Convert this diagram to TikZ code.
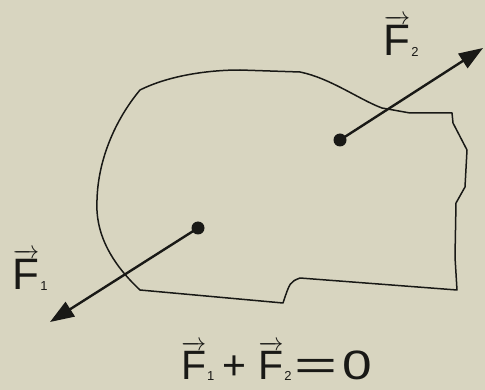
\documentclass[tikz,border=0pt]{standalone}
\usepackage{amsmath}
\usepackage{graphicx}
\usepackage{fontspec}
\setmainfont{Liberation Sans}
\usepackage{tikz}
\usetikzlibrary{arrows.meta,positioning,calc}
\definecolor{paperbg}{RGB}{216,213,192}
\definecolor{inkdark}{RGB}{25,25,22}
\newcommand{\forcevec}[1]{\ensuremath{\overrightarrow{\text{F}}}\kern1pt\raisebox{-1pt}{\fontsize{13}{13}\selectfont #1}}
\tikzset{
  outline/.style={draw=inkdark,line width=1.5pt,line join=round},
  point/.style={circle,fill=inkdark,minimum size=13pt,inner sep=0pt},
  force/.style={-{Triangle[length=24pt,width=17pt]},line width=2.4pt,draw=inkdark},
  forcelabel/.style={font=\fontsize{44}{46}\selectfont,text=inkdark,inner sep=0pt}
}
\begin{document}
\begin{tikzpicture}[x=1pt,y=-1pt]
  \fill[paperbg] (0,0) rectangle (485,390);
  \useasboundingbox (0,0) rectangle (485,390);
  % body outline
  \draw[outline] (140,90) .. controls (170,75) and (210,70) .. (240,70) -- (300,72)
    .. controls (330,78) and (360,100) .. (382,108) -- (410,113) -- (452,113) -- (453,123)
    -- (467,150) -- (465,187) -- (456,203) -- (455,257) -- (457,290) -- (300,278)
    .. controls (290,282) .. (283,303) -- (140,290)
    .. controls (110,262) and (95,232) .. (97,200) .. controls (98,160) and (115,120) .. (140,90);
  % points of application
  \node[point] (p1) at (198,228) {};
  \node[point] (p2) at (340,140) {};
  \coordinate (tip1) at (50,322);
  \coordinate (tip2) at (483,48);
  \draw[force] (p1.center) -- (tip1);
  \draw[force] (p2.center) -- (tip2);
  % labels
  \node[forcelabel] (f1) at (30,270) {\forcevec{1}};
  \node[forcelabel] (f2) at (401,36) {\forcevec{2}};
  \node[forcelabel,font=\fontsize{41}{43}\selectfont,anchor=west] (sum) at (181,361)
    {\forcevec{1}\kern8pt+\kern12pt\forcevec{2}\kern3pt\scalebox{1.8}[1]{=}\kern5pt\scalebox{1.3}[1]{0}};
\end{tikzpicture}
\end{document}
